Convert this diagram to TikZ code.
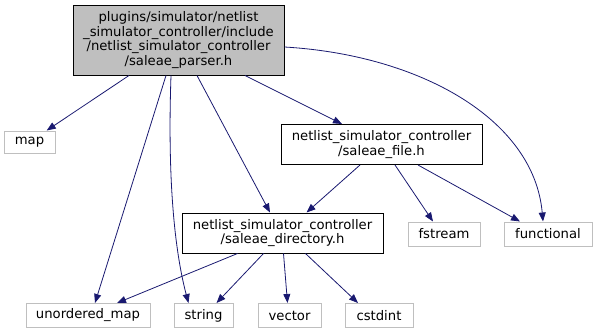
\documentclass[tikz,border=0pt]{standalone}
\usepackage{fontspec}
\setmainfont{DejaVu Sans}
\usetikzlibrary{arrows.meta}
\definecolor{edgeblue}{HTML}{191970}
\definecolor{boxgray}{HTML}{BFBFBF}

\begin{document}
\begin{tikzpicture}[x=1pt,y=-1pt,
  font=\fontsize{13.2}{14.8}\selectfont,
  file/.style={draw=black, line width=1pt, fill=white, inner sep=0pt, align=center, minimum height=40pt},
  sys/.style={draw=boxgray, line width=1pt, fill=white, inner sep=0pt, minimum height=24pt},
  dep/.style={draw=edgeblue, line width=0.8pt, -{Triangle[length=9pt,width=7pt]}}]
\useasboundingbox (0,0) rectangle (597,335);
\node[file, fill=boxgray, minimum width=211pt, minimum height=70pt] (parser) at (178.5,40) {plugins/simulator/netlist\\\_simulator\_controller/include\\/netlist\_simulator\_controller\\/saleae\_parser.h};
\node[file, minimum width=201pt] (sf) at (381.5,144.5) {netlist\_simulator\_controller\\/saleae\_file.h};
\node[file, minimum width=201pt] (sd) at (282.5,233) {netlist\_simulator\_controller\\/saleae\_directory.h};
\node[sys, minimum width=51pt, minimum height=22pt] (map) at (29.5,142) {map};
\node[sys, minimum width=72pt] (fstream) at (444,234) {fstream};
\node[sys, minimum width=88pt] (func) at (548,234) {functional};
\node[sys, minimum width=124pt] (umap) at (88,315.5) {unordered\_map};
\node[sys, minimum width=59pt] (string) at (203.5,315.5) {string};
\node[sys, minimum width=63pt] (vector) at (289.5,315.5) {vector};
\node[sys, minimum width=68pt] (cstdint) at (379,315.5) {cstdint};

% saleae_parser.h
\draw[dep] ([xshift=-49.5pt]parser.south) -- (map);
\draw[dep] ([xshift=-12.5pt]parser.south) -- ([xshift=7pt]umap.north);
\draw[dep] ([xshift=-7.5pt]parser.south) .. controls +(-4,115) and +(-12,-45) .. ([xshift=-15pt]string.north);
\draw[dep] ([xshift=18.5pt]parser.south) -- ([xshift=-12.5pt]sd.north);
\draw[dep] ([xshift=66.5pt]parser.south) -- ([xshift=-39.5pt]sf.north);
\draw[dep] ([yshift=-7pt]parser.east) .. controls +(136,8) and +(-9,-102) .. ([xshift=-5pt]func.north);
% saleae_file.h
\draw[dep] ([xshift=-21.5pt]sf.south) -- ([xshift=24pt]sd.north);
\draw[dep] ([xshift=13.5pt]sf.south) -- ([xshift=-11pt]fstream.north);
\draw[dep] ([xshift=36.5pt]sf.south) -- ([xshift=-28pt]func.north);
% saleae_directory.h
\draw[dep] ([xshift=-45pt]sd.south) -- ([xshift=29pt]umap.north);
\draw[dep] ([xshift=-19pt]sd.south) -- ([xshift=13pt]string.north);
\draw[dep] ([xshift=1pt]sd.south) -- ([xshift=-2pt]vector.north);
\draw[dep] ([xshift=23pt]sd.south) -- ([xshift=-21pt]cstdint.north);
\end{tikzpicture}
\end{document}
